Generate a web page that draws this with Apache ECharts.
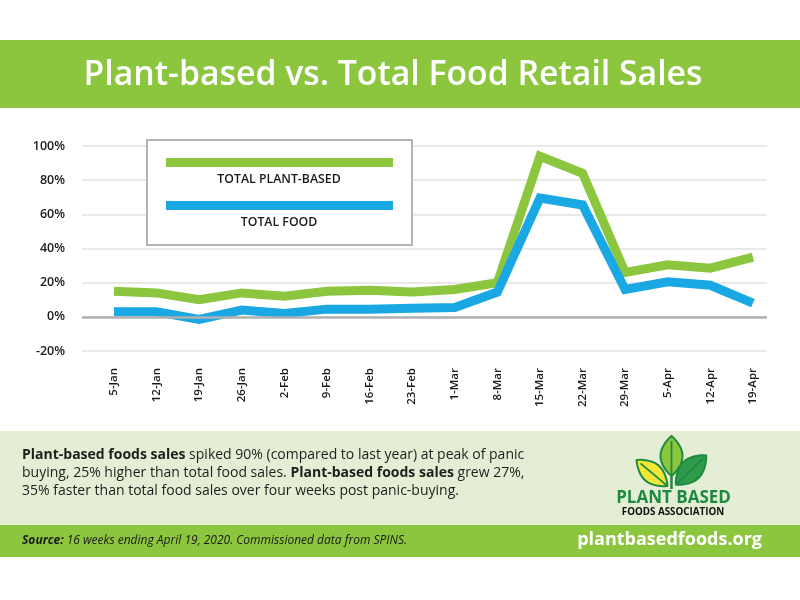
<!DOCTYPE html>
<html><head><meta charset="utf-8">
<script src="https://cdn.jsdelivr.net/npm/echarts@6/dist/echarts.min.js"></script>
<style>html,body{margin:0;padding:0;background:#fff}#c{width:800px;height:600px}</style>
</head><body><div id="c"></div>
<script>
const categories = ['5-Jan','12-Jan','19-Jan','26-Jan','2-Feb','9-Feb','16-Feb','23-Feb','1-Mar','8-Mar','15-Mar','22-Mar','29-Mar','5-Apr','12-Apr','19-Apr'];
const plantBased = [15, 14, 10, 14, 12, 15, 15.5, 14.5, 16, 20, 94, 84, 26, 30.5, 28.5, 35];
const totalFood = [3, 3, -1.5, 4, 2, 4.5, 4.5, 5, 5.5, 14.5, 69.5, 65.5, 16, 20.5, 18.5, 8];
const seriesNames = ['TOTAL PLANT-BASED', 'TOTAL FOOD'];
const yTicks = [-20, 0, 20, 40, 60, 80, 100];
const titleText = 'Plant-based vs. Total Food Retail Sales';
const noteLines = ['{b|Plant-based foods sales} spiked 90% (compared to last year) at peak of panic', 'buying, 25% higher than total food sales. {b|Plant-based foods sales} grew 27%,', '35% faster than total food sales over four weeks post panic-buying.'];
const sourceText = '{b|Source:} 16 weeks ending April 19, 2020. Commissioned data from SPINS.';
const siteText = 'plantbasedfoods.org';

const GREEN = '#8cc63f', BLUE = '#19a8e4', DARK = '#1d8a3f';
const FONT = '"Open Sans", "Noto Sans", sans-serif';

function measure(t, font) {
  const c = document.createElement('canvas').getContext('2d');
  c.font = font; return c.measureText(t).width;
}
const titleFont = '600 34px "Open Sans"';
const titleScale = 619 / measure(titleText, titleFont);

const idx = categories.map((_, i) => i);
const chart = echarts.init(document.getElementById('c'), null, {renderer: 'canvas'});

function leafOutline(w, h) {
  const pts = [], n = 24;
  for (let k = 0; k <= n; k++) { const t = k / n; pts.push([(w / 2) * Math.pow(Math.sin(Math.PI * t), 0.85), -h / 2 + h * t]); }
  for (let k = n - 1; k > 0; k--) { const t = k / n; pts.push([-(w / 2) * Math.pow(Math.sin(Math.PI * t), 0.85), -h / 2 + h * t]); }
  return pts;
}
function leaf(cx, cy, w, h, rotDeg, fill, stroke) {
  return {
    type: 'group', x: cx, y: cy, rotation: rotDeg * Math.PI / 180, z: 20,
    children: [
      {type: 'polygon', z: 20, shape: {points: leafOutline(w, h)}, style: {fill: fill, stroke: stroke, lineWidth: 2}},
      {type: 'line', z: 21, shape: {x1: 0, y1: -h / 2 + 5, x2: 0, y2: h / 2}, style: {stroke: stroke, lineWidth: 1.8}}
    ]
  };
}

const option = {
  animation: false,
  backgroundColor: '#fff',
  textStyle: {fontFamily: FONT},
  grid: {left: 82, right: 33, top: 146, bottom: 249},
  xAxis: {
    type: 'value', min: -0.75, max: 15.33,
    axisLine: {show: false, onZero: false},
    axisTick: {show: false},
    splitLine: {show: false},
    axisLabel: {
      customValues: idx, rotate: 90, margin: 17, fontSize: 11.5, fontWeight: 600, color: '#1a1a1a', fontFamily: FONT,
      formatter: v => categories[Math.round(v)] || ''
    }
  },
  yAxis: {
    type: 'value', min: yTicks[0], max: yTicks[yTicks.length - 1], interval: yTicks[1] - yTicks[0],
    axisLine: {show: false, onZero: false},
    axisTick: {show: false},
    splitLine: {lineStyle: {color: '#e2e2e2', width: 1.5}},
    axisLabel: {formatter: '{value}%', fontSize: 12.5, fontWeight: 600, color: '#1a1a1a', margin: 17, fontFamily: FONT}
  },
  series: [
    {
      name: seriesNames[0], type: 'line', symbol: 'none',
      data: plantBased.map((v, i) => [i, v]),
      lineStyle: {color: GREEN, width: 9, cap: 'butt', join: 'miter'},
      itemStyle: {color: GREEN},
      markLine: {silent: true, symbol: 'none', label: {show: false},
        lineStyle: {color: '#b0b0b0', width: 2.5, type: 'solid'}, data: [{yAxis: 0}]}
    },
    {
      name: seriesNames[1], type: 'line', symbol: 'none',
      data: totalFood.map((v, i) => [i, v]),
      lineStyle: {color: BLUE, width: 9, cap: 'butt', join: 'miter'},
      itemStyle: {color: BLUE}
    }
  ],
  graphic: [
    {type: 'rect', shape: {x: 0, y: 40, width: 800, height: 68}, style: {fill: GREEN}, z: 1},
    {type: 'text', x: 393, y: 75, scaleX: titleScale, z: 2,
     style: {text: titleText, x: 0, y: 0, textAlign: 'center', textVerticalAlign: 'middle', fill: '#fff', font: titleFont}},
    {type: 'rect', shape: {x: 147, y: 140, width: 265, height: 105}, style: {fill: '#fff', stroke: '#b3b3b3', lineWidth: 2}, z: 10},
    {type: 'rect', shape: {x: 166, y: 158, width: 227, height: 9}, style: {fill: GREEN}, z: 11},
    {type: 'text', x: 279, y: 179, z: 11, style: {text: seriesNames[0], textAlign: 'center', textVerticalAlign: 'middle', fill: '#1a1a1a', font: '600 12.3px "Open Sans"'}},
    {type: 'rect', shape: {x: 166, y: 201, width: 227, height: 9}, style: {fill: BLUE}, z: 11},
    {type: 'text', x: 279, y: 222, z: 11, style: {text: seriesNames[1], textAlign: 'center', textVerticalAlign: 'middle', fill: '#1a1a1a', font: '600 12.3px "Open Sans"'}},
    {type: 'rect', shape: {x: 0, y: 431, width: 800, height: 95}, style: {fill: '#e3eed5'}, z: 1},
    {type: 'text', x: 22, y: 446, z: 2,
     style: {text: noteLines.join('\n'), fill: '#1e1e1e', fontSize: 14, fontFamily: FONT, lineHeight: 18,
       rich: {b: {fontWeight: 'bold', fontSize: 14, fontFamily: FONT, fill: '#1e1e1e', lineHeight: 18}}}},
    {type: 'line', shape: {x1: 671.5, y1: 474, x2: 671.5, y2: 489}, style: {stroke: DARK, lineWidth: 2.5}, z: 19},
    leaf(671.5, 456, 22, 40, 0, '#8cc63f', DARK),
    leaf(652, 473, 20, 40, 50, '#f2e637', DARK),
    leaf(691, 470, 22, 42, -46, '#2e9b4a', DARK),
    {type: 'text', x: 673.5, y: 498.5, z: 20, style: {text: 'PLANT BASED', textAlign: 'center', textVerticalAlign: 'middle', fill: DARK, font: 'bold 17px "Open Sans"'}},
    {type: 'text', x: 673, y: 512, z: 20, style: {text: 'FOODS ASSOCIATION', textAlign: 'center', textVerticalAlign: 'middle', fill: '#111', font: 'bold 9.8px "Open Sans"'}},
    {type: 'rect', shape: {x: 0, y: 525, width: 800, height: 32}, style: {fill: GREEN}, z: 1},
    {type: 'text', x: 22, y: 541, z: 2,
     style: {text: sourceText, textVerticalAlign: 'middle', fill: '#1a1a1a', fontSize: 12, fontStyle: 'italic', fontFamily: FONT,
       rich: {b: {fontWeight: 'bold', fontStyle: 'italic', fontSize: 12, fontFamily: FONT, fill: '#1a1a1a'}}}},
    {type: 'text', x: 762, y: 540, z: 2, style: {text: siteText, textAlign: 'right', textVerticalAlign: 'middle', fill: '#fff', font: 'bold 18px "Open Sans"'}}
  ]
};
chart.setOption(option);
</script>
</body></html>
